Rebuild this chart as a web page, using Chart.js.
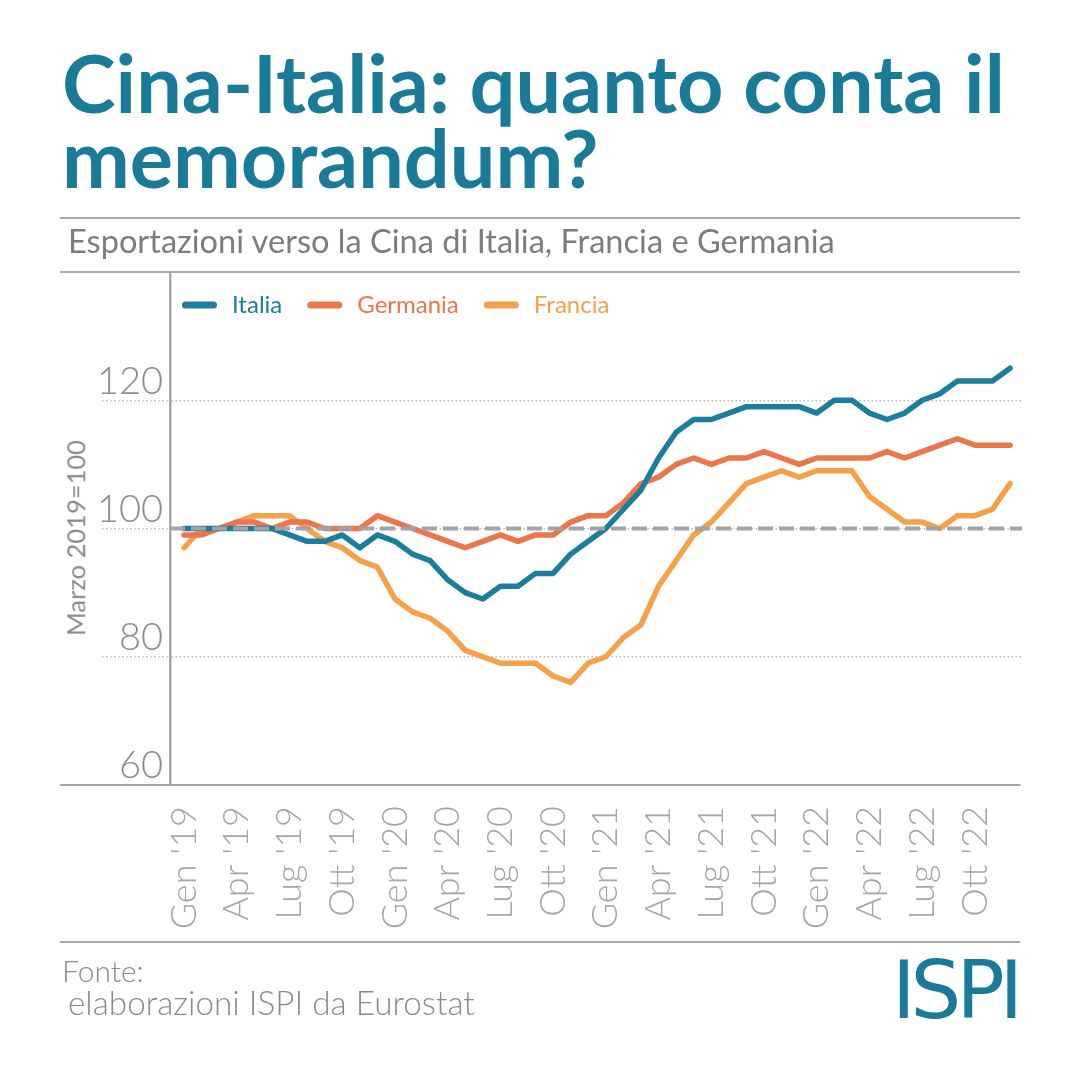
<!DOCTYPE html>
<html><head><meta charset="utf-8">
<script src="https://cdn.jsdelivr.net/npm/chart.js@4.4.0/dist/chart.umd.min.js"></script>
<style>
html,body{margin:0;padding:0;background:#fff;}
#wrap{position:relative;width:1080px;height:1080px;overflow:hidden;background:#fff;}
#c{position:absolute;left:0;top:0;}
.t{position:absolute;white-space:nowrap;line-height:1;font-family:Lato,"Open Sans",sans-serif;}
.sep{position:absolute;left:60px;width:960px;height:2px;background:#a8a8a8;}
</style></head><body>
<div id="wrap">
<canvas id="c" width="1080" height="1080"></canvas>
<div class="sep" style="top:217px"></div>
<div class="sep" style="top:271px"></div>
<div class="sep" style="top:784px"></div>
<div class="sep" style="top:941px"></div>
<div id="title1" class="t" style="font-weight:700;color:#1a7b99;">Cina-Italia: quanto conta il</div>
<div id="title2" class="t" style="font-weight:700;color:#1a7b99;">memorandum?</div>
<div id="sub" class="t" style="font-weight:400;color:#7d7d7d;">Esportazioni verso la Cina di Italia, Francia e Germania</div>
<div id="ytitle" class="t" style="font-weight:400;color:#8a8a8a;font-size:25.5px;left:76px;top:538px;transform:translate(-50%,-50%) rotate(-90deg);">Marzo 2019=100</div>
<div id="f1" class="t" style="font-weight:300;color:#8a8a8a;">Fonte:</div>
<div id="f2" class="t" style="font-weight:300;color:#8a8a8a;">elaborazioni ISPI da Eurostat</div>
<div id="ispi" class="t" style="font-family:'DejaVu Sans',sans-serif;font-weight:400;color:#1a7b99;letter-spacing:-5px;">ISPI</div>
</div>
<script>
// ---- data ----
const seriesNames = ['Italia', 'Germania', 'Francia'];
const italia   = [100,100,100,100,100,100,99,98,98,99,97,99, 98,96,95,92,90,89,91,91,93,93,96,98, 100,103,106,111,115,117,117,118,119,119,119,119, 118,120,120,118,117,118,120,121,123,123,123,125];
const germania = [99,99,100,101,101,100,101,101,100,100,100,102, 101,100,99,98,97,98,99,98,99,99,101,102, 102,104,107,108,110,111,110,111,111,112,111,110, 111,111,111,111,112,111,112,113,114,113,113,113];
const francia  = [97,100,100,101,102,102,102,100,98,97,95,94, 89,87,86,84,81,80,79,79,79,77,76,79, 80,83,85,91,95,99,101,104,107,108,109,108, 109,109,109,105,103,101,101,100,102,102,103,107];
const tickIdx = [0,3,6,9,12,15,18,21,24,27,30,33,36,39,42,45];
const tickLabels = ["Gen '19","Apr '19","Lug '19","Ott '19","Gen '20","Apr '20","Lug '20","Ott '20","Gen '21","Apr '21","Lug '21","Ott '21","Gen '22","Apr '22","Lug '22","Ott '22"];
const yTicks = [60, 80, 100, 120];
const baseline = 100;
const colors = ['#1a7e9c', '#ec754a', '#f6a048'];

// ---- text placement ----
const wrap = document.getElementById('wrap');
function place(id, x, base, opts) {
  const el = document.getElementById(id);
  el.style.left = x + 'px'; el.style.top = '0px';
  if (opts.width) {
    el.style.fontSize = '100px';
    const w = el.getBoundingClientRect().width;
    el.style.fontSize = (100 * opts.width / w) + 'px';
  } else if (opts.size) {
    el.style.fontSize = opts.size + 'px';
  }
  const m = document.createElement('span');
  m.style.cssText = 'display:inline-block;width:0;height:0;vertical-align:baseline';
  el.appendChild(m);
  const b = m.getBoundingClientRect().top - wrap.getBoundingClientRect().top;
  el.style.top = (base - b) + 'px';
  return parseFloat(el.style.fontSize);
}
const ts = place('title1', 62, 113, {width: 943});
place('title2', 62, 188, {size: ts});
place('sub', 68, 253, {width: 767});
place('f1', 62, 982, {size: 30});
place('f2', 68, 1015, {width: 407});
place('ispi', 892, 1018, {size: 80});

// ---- plugins ----
const baselinePlugin = {
  id: 'baselineLine',
  afterDatasetsDraw(chart) {
    const {ctx, chartArea: a, scales: {y}} = chart;
    const py = y.getPixelForValue(baseline);
    ctx.save();
    ctx.strokeStyle = '#a2a2aa'; ctx.lineWidth = 4; ctx.setLineDash([15, 6]);
    ctx.beginPath(); ctx.moveTo(a.left, py); ctx.lineTo(a.right, py); ctx.stroke();
    ctx.restore();
  }
};
const legendPlugin = {
  id: 'customLegend',
  afterDraw(chart) {
    const ctx = chart.ctx; ctx.save();
    ctx.font = '400 24px Lato'; ctx.textBaseline = 'alphabetic';
    let x = 182; const y = 305;
    chart.data.datasets.forEach(ds => {
      ctx.strokeStyle = ds.borderColor; ctx.lineWidth = 7; ctx.lineCap = 'round';
      ctx.beginPath(); ctx.moveTo(x + 3.5, y); ctx.lineTo(x + 31.5, y); ctx.stroke();
      ctx.fillStyle = ds.borderColor; ctx.fillText(ds.label, x + 50, 313);
      x = x + 50 + ctx.measureText(ds.label).width + 25;
    });
    ctx.restore();
  }
};

const toPts = arr => arr.map((v, i) => ({x: i, y: v}));

new Chart(document.getElementById('c'), {
  type: 'line',
  data: {
    datasets: [
      {label: seriesNames[0], data: toPts(italia), borderColor: colors[0], backgroundColor: colors[0]},
      {label: seriesNames[1], data: toPts(germania), borderColor: colors[1], backgroundColor: colors[1]},
      {label: seriesNames[2], data: toPts(francia), borderColor: colors[2], backgroundColor: colors[2]}
    ]
  },
  options: {
    responsive: false, animation: false, devicePixelRatio: 1,
    layout: {padding: {left: 0, top: 272, right: 58, bottom: 135}},
    elements: {
      line: {borderWidth: 5.5, tension: 0, borderCapStyle: 'round', borderJoinStyle: 'round', fill: false},
      point: {radius: 0, hoverRadius: 0}
    },
    plugins: {legend: {display: false}, tooltip: {enabled: false}, title: {display: false}},
    scales: {
      x: {
        type: 'linear', min: -0.8, max: 47.68,
        afterBuildTicks: s => { s.ticks = tickIdx.map(v => ({value: v})); },
        afterFit: s => { s.height = 160; },
        grid: {display: false}, border: {display: false},
        ticks: {
          autoSkip: false, minRotation: 90, maxRotation: 90, padding: 13,
          color: '#a4a4aa', font: {family: 'Lato', size: 36, weight: '300'},
          callback: (v, i) => tickLabels[i]
        }
      },
      y: {
        min: 60, max: 140,
        afterBuildTicks: s => { s.ticks = yTicks.map(v => ({value: v})); },
        afterFit: s => { s.width = 170; },
        grid: {color: '#b9b9b9', lineWidth: 1.5, drawTicks: true, tickLength: 68, tickColor: '#b9b9b9', tickWidth: 1.5, tickBorderDash: [1.5, 2.5]},
        border: {display: true, color: '#a8a8a8', width: 2.5, dash: [1.5, 2.5]},
        ticks: {padding: -61, labelOffset: -19, color: '#8b8b93', font: {family: 'Lato', size: 38, weight: '300'}}
      }
    }
  },
  plugins: [baselinePlugin, legendPlugin]
});
</script>
</body></html>
